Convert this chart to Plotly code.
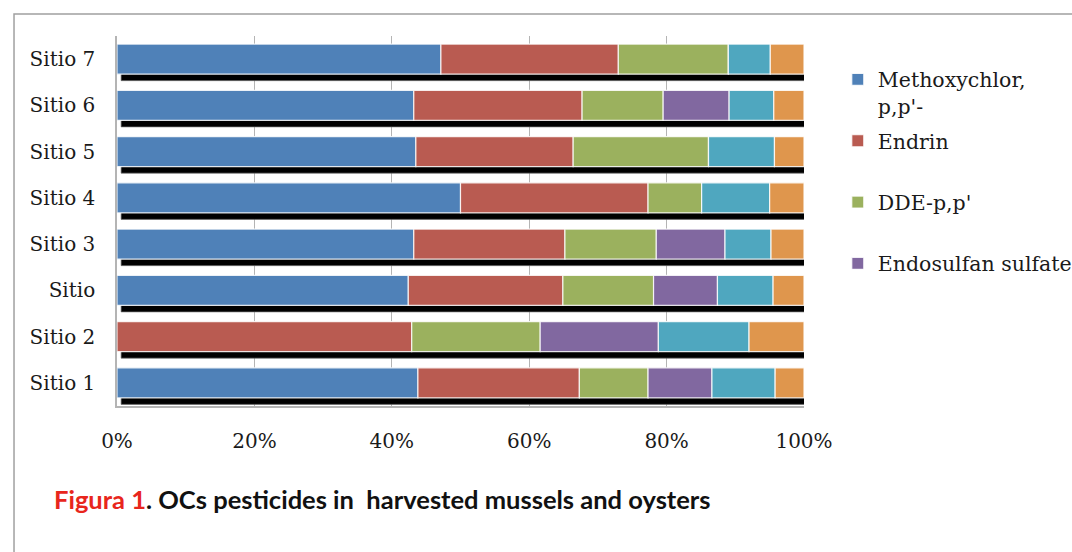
import numpy as np
import plotly.graph_objects as go

# Share of each organochlorine pesticide per sampling site (%)
sites = ["Sitio 1", "Sitio 2", "Sitio", "Sitio 3", "Sitio 4", "Sitio 5", "Sitio 6", "Sitio 7"]
methoxychlor = [43.8, 0.0, 42.4, 43.2, 50.0, 43.5, 43.2, 47.1]
endrin = [23.5, 42.9, 22.5, 22.0, 27.3, 22.9, 24.5, 25.8]
dde = [10.0, 18.7, 13.2, 13.3, 7.8, 19.7, 11.8, 16.0]
endosulfan_sulfate = [9.3, 17.2, 9.3, 10.0, 0.0, 0.0, 9.6, 0.0]
serie_5 = [9.2, 13.2, 8.1, 6.7, 9.9, 9.6, 6.5, 6.1]
serie_6 = [4.2, 8.0, 4.5, 4.8, 5.0, 4.3, 4.4, 4.9]

series_names = ["Methoxychlor,<br>p,p'-", "Endrin<br> ", "DDE-p,p'<br> ", "Endosulfan sulfate<br> ",
                "Serie 5", "Serie 6"]
series_values = [methoxychlor, endrin, dde, endosulfan_sulfate, serie_5, serie_6]
series_colors = ["#4f81b8", "#b95b51", "#9bb15e", "#8168a0", "#4fa7bf", "#df964d"]
series_in_legend = [True, True, True, True, False, False]

x_tickvals = [0, 20, 40, 60, 80, 100]
x_ticktext = ["0%", "20%", "40%", "60%", "80%", "100%"]

# 100 % stacked: normalise each row, then accumulate the bases by hand
vals = np.array(series_values, dtype=float)
vals = vals / vals.sum(axis=0) * 100.0
bases = np.vstack([np.zeros(vals.shape[1]), np.cumsum(vals, axis=0)[:-1]])
totals = vals.sum(axis=0)

BAR_W = 0.65
SHADOW_DY = 0.14   # drop-shadow shift along the category axis
SHADOW_DX = 0.6    # drop-shadow shift along the value axis (%)

fig = go.Figure()

# black drop shadow behind each bar
fig.add_trace(go.Bar(
    y=sites, x=totals, base=[SHADOW_DX] * len(sites), orientation="h",
    width=BAR_W, offset=-BAR_W / 2 - SHADOW_DY,
    marker=dict(color="#000000", line=dict(color="rgba(110,110,110,0.7)", width=1)),
    showlegend=False, hoverinfo="skip",
))

for i, (name, color, show) in enumerate(zip(series_names, series_colors, series_in_legend)):
    fig.add_trace(go.Bar(
        y=sites, x=vals[i], base=bases[i], orientation="h",
        width=BAR_W, offset=-BAR_W / 2,
        name=name, legendgroup=f"g{i}", showlegend=show,
        marker=dict(color=color, line=dict(color="rgba(255,255,255,0.85)", width=1.2)),
    ))

serif = "DejaVu Serif"

fig.update_layout(
    width=1072, height=552,
    margin=dict(l=117, r=268, t=36, b=146, autoexpand=False),
    paper_bgcolor="white", plot_bgcolor="white",
    barmode="overlay",
    font=dict(family=serif, size=20, color="#1a1a1a"),
    legend=dict(
        xref="container", yref="container",
        x=0.7815, y=0.892, xanchor="left", yanchor="top",
        traceorder="grouped", tracegroupgap=5, valign="top",
        font=dict(family=serif, size=20.5, color="#1a1a1a"),
        bgcolor="rgba(0,0,0,0)",
    ),
    xaxis=dict(
        range=[0, 100], tickvals=x_tickvals, ticktext=x_ticktext,
        showgrid=True, gridcolor="#b4b4b4", gridwidth=1,
        showline=True, linecolor="#b4b4b4", linewidth=1.5,
        zeroline=False, ticks="", ticklabelstandoff=16,
        tickfont=dict(family=serif, size=20),
    ),
    yaxis=dict(
        categoryorder="array", categoryarray=sites, range=[-0.5, len(sites) - 0.5],
        showgrid=False, showline=True, linecolor="#b4b4b4", linewidth=1.5,
        ticks="", ticklabelstandoff=16,
        tickfont=dict(family=serif, size=20),
    ),
    shapes=[dict(
        type="rect", xref="paper", yref="paper",
        x0=-0.1499, y0=1.0595, x1=1.6, y1=-0.6,
        line=dict(color="#a0a0a0", width=1.5), fillcolor="rgba(0,0,0,0)", layer="below",
    )],
    annotations=[dict(
        xref="paper", yref="paper", x=-0.0946, y=-0.251, xanchor="left", yanchor="middle",
        showarrow=False,
        text="<b><span style='color:#e8261c'>Figura 1</span>. OCs pesticides in\u00a0 harvested mussels and oysters</b>",
        font=dict(family="Lato", size=25.5, color="#111111"),
    )],
)

fig.write_html("out.html")
